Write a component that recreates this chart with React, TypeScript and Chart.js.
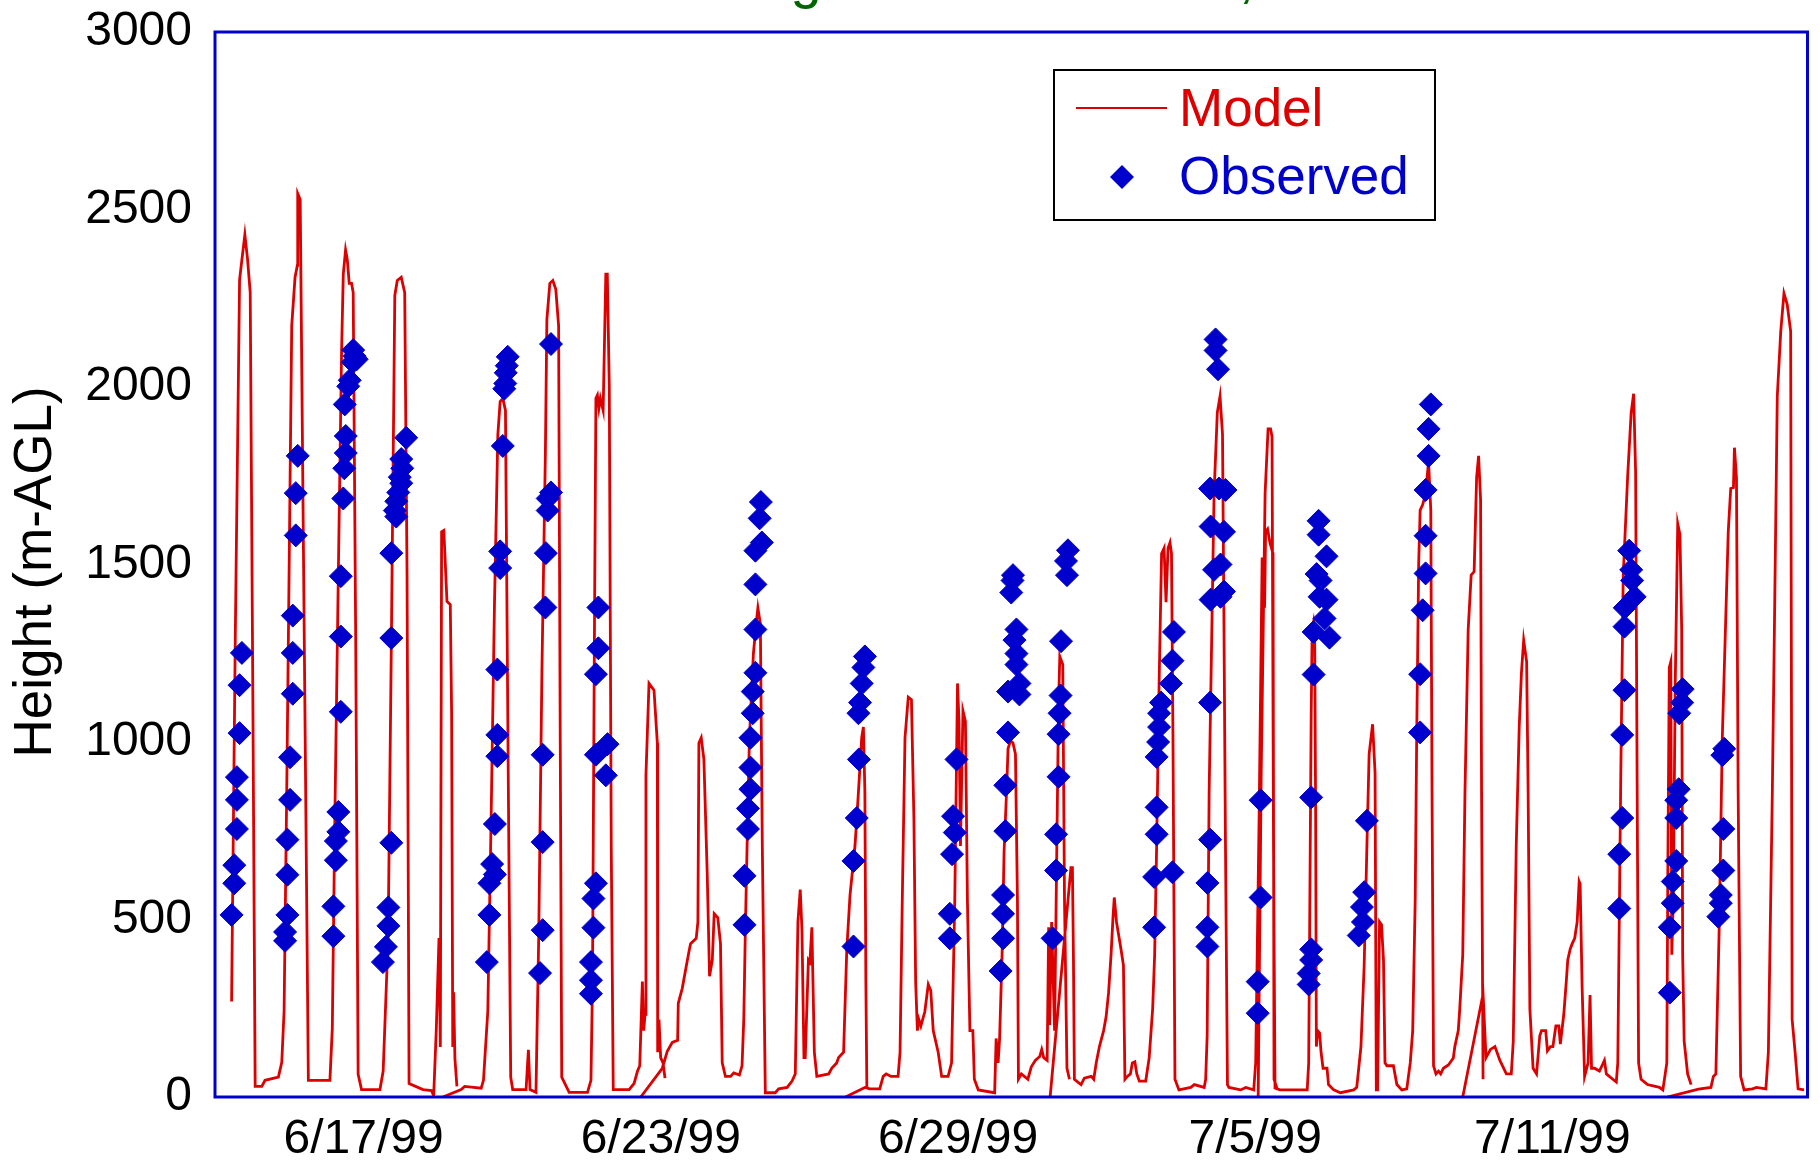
import React, { useEffect, useRef } from "react";
import { Chart, registerables } from "chart.js";

Chart.register(...registerables);

// ---------- data (x = days since 6/14/99 00:00, y = height in m AGL) ----------
const TITLE = "PBL Height at Central Site, 1999";
const Y_TITLE = "Height (m-AGL)";
const SERIES_LABELS = ["Model", "Observed"];

const xTickDays = [3, 9, 15, 21, 27];
const xTickLabels = ["6/17/99", "6/23/99", "6/29/99", "7/5/99", "7/11/99"];
const yTickValues = [0, 500, 1000, 1500, 2000, 2500, 3000];

const modelRun1: [number, number][] = [
  [0.335, 269], [0.41, 1302], [0.496, 2301], [0.53, 2343], [0.603, 2429], [0.657, 2360], [0.711, 2266],
  [0.764, 1131], [0.811, 30], [0.945, 30], [1.01, 47], [1.28, 56], [1.348, 98], [1.395, 243], [1.449, 875],
  [1.502, 1558], [1.549, 2173], [1.616, 2309], [1.663, 2343], [1.67, 2545], [1.72, 2528], [1.885, 47],
  [2.32, 47], [2.368, 192], [2.42, 790], [2.49, 1473], [2.556, 2104], [2.59, 2318], [2.636, 2386],
  [2.67, 2360], [2.71, 2292], [2.757, 2292], [2.79, 2266], [2.84, 1302], [2.89, 64], [2.958, 21],
  [3.33, 21], [3.395, 73], [3.495, 448], [3.562, 1302], [3.63, 2258], [3.68, 2300], [3.76, 2309],
  [3.83, 2266], [3.877, 1473], [3.918, 38], [4.2, 21], [4.37, 18], [4.415, 4], [4.468, 192], [4.522, 448],
  [4.549, 141], [4.575, 1592], [4.62, 1596], [4.683, 1396], [4.75, 1387], [4.777, 1080], [4.8, 141],
  [4.817, 295], [4.844, 107], [4.884, 30],
];

const modelRun2: [number, number][] = [
  [4.6, 0], [4.97, 21], [5.04, 30], [5.374, 25], [5.42, 47], [5.508, 243], [5.575, 790], [5.642, 1387],
  [5.71, 1865], [5.757, 1959], [5.81, 1968], [5.864, 1934], [5.917, 960], [5.97, 56], [6.01, 21], [6.28, 21],
  [6.327, 133], [6.36, 21], [6.48, 13], [6.535, 448], [6.6, 1200], [6.67, 1814], [6.7, 2190], [6.76, 2292],
  [6.82, 2300], [6.88, 2275], [6.937, 2173], [6.97, 1000], [7.0, 56], [7.15, 13], [7.52, 13], [7.59, 47],
  [7.62, 312], [7.66, 1300], [7.69, 1968], [7.72, 1977], [7.75, 1940], [7.78, 1968], [7.836, 1934],
  [7.89, 2318], [7.92, 2318], [7.96, 2002], [8.0, 700], [8.04, 21], [8.09, 21], [8.36, 21], [8.46, 38],
  [8.53, 73], [8.575, 88], [8.628, 325], [8.655, 187], [8.682, 233], [8.7, 905], [8.762, 1165],
  [8.863, 1146], [8.93, 997], [8.937, 126], [8.964, 218], [8.997, 111], [9.045, 96], [9.085, 53],
];

const modelRun3: [number, number][] = [
  [8.595, 0], [9.03, 81], [9.131, 129], [9.232, 154], [9.34, 160], [9.353, 264], [9.433, 306], [9.514, 368],
  [9.568, 409], [9.601, 432], [9.715, 447], [9.749, 493], [9.769, 997], [9.816, 1012], [9.87, 951],
  [9.937, 630], [9.984, 340], [10.04, 386], [10.078, 516], [10.15, 505], [10.205, 432], [10.24, 96],
  [10.305, 58], [10.41, 58], [10.473, 68], [10.587, 62], [10.64, 88], [10.675, 218], [10.708, 478],
  [10.742, 707], [10.789, 1012], [10.87, 1250], [10.93, 1340], [10.96, 1378], [11.01, 1333], [11.05, 700],
  [11.11, 12], [11.31, 12], [11.38, 23], [11.55, 27], [11.65, 45], [11.715, 65], [11.768, 493], [11.815, 584],
  [11.85, 470], [11.89, 111], [11.916, 111], [11.98, 386], [12.01, 380], [12.05, 478], [12.1, 126],
  [12.15, 58], [12.39, 65], [12.45, 81], [12.55, 96], [12.59, 111], [12.69, 126], [12.72, 260],
  [12.755, 416], [12.82, 569], [12.92, 707], [12.99, 859], [13.056, 1012], [13.09, 1042], [13.12, 859],
  [13.14, 325], [13.16, 27],
];

const modelRun4: [number, number][] = [
  [12.73, 0], [13.12, 27], [13.22, 23], [13.42, 23], [13.49, 58], [13.55, 65], [13.65, 58], [13.79, 58],
  [13.83, 126], [13.875, 554], [13.93, 1012], [13.996, 1126], [14.06, 1119], [14.11, 783], [14.145, 325],
  [14.18, 187], [14.21, 218], [14.25, 200], [14.33, 240], [14.4, 317], [14.45, 300], [14.5, 187],
  [14.6, 126], [14.67, 58], [14.8, 58], [14.87, 96], [14.935, 554], [14.99, 1165], [15.02, 1058],
  [15.05, 707], [15.1, 1088], [15.15, 1058], [15.19, 554], [15.24, 187], [15.3, 187], [15.33, 50],
  [15.41, 20], [15.74, 12], [15.77, 165], [15.81, 96], [15.84, 165], [15.89, 401], [15.93, 691],
  [15.98, 859], [16.01, 981], [16.06, 1004], [16.11, 997], [16.16, 966], [16.2, 554], [16.22, 50],
  [16.28, 65], [16.41, 50], [16.48, 85], [16.56, 103], [16.65, 114], [16.69, 134], [16.73, 111], [16.8, 103],
  [16.83, 478], [16.85, 203], [16.89, 493], [16.95, 187], [17.03, 1104], [17.055, 1241], [17.115, 1218],
  [17.15, 554], [17.2, 81], [17.25, 50],
];

const modelRun5: [number, number][] = [
  [16.86, 0], [17.28, 646], [17.31, 646], [17.33, 401], [17.35, 50], [17.42, 42], [17.485, 35], [17.55, 53],
  [17.69, 58], [17.74, 50], [17.79, 96], [17.855, 142], [17.94, 187], [17.99, 226], [18.04, 294], [18.09, 401],
  [18.13, 508], [18.155, 562], [18.2, 493], [18.29, 417], [18.34, 371], [18.37, 50], [18.42, 58], [18.48, 65],
  [18.52, 96], [18.57, 99], [18.61, 65], [18.66, 45], [18.79, 45], [18.86, 111], [18.93, 249], [18.97, 401],
  [19.01, 707], [19.06, 1165], [19.11, 1531], [19.16, 1546], [19.2, 1394], [19.24, 1546], [19.28, 1562],
  [19.31, 1531], [19.34, 1012], [19.38, 50], [19.46, 20], [19.7, 27], [19.77, 35], [19.97, 27], [20.0, 50],
  [20.03, 172], [20.07, 859], [20.17, 1700], [20.235, 1928], [20.29, 1974], [20.34, 1867], [20.37, 1317],
  [20.4, 707], [20.44, 35], [20.47, 27], [20.705, 20], [20.81, 27], [20.97, 20], [21.01, 96], [21.08, 800],
  [21.14, 1516], [21.17, 1516], [21.19, 1378], [21.21, 1592], [21.25, 1600], [21.3, 1560], [21.36, 1531],
  [21.38, 50], [21.45, 20],
];

const modelRun6: [number, number][] = [
  [21.06, 0], [21.12, 900], [21.2, 1700], [21.26, 1882], [21.31, 1882], [21.34, 1860], [21.37, 700],
  [21.4, 25], [21.5, 20], [21.645, 20], [22.05, 20], [22.08, 96], [22.13, 1073], [22.15, 1317], [22.18, 1340],
  [22.2, 1320], [22.22, 800], [22.235, 142], [22.26, 187], [22.3, 180], [22.33, 126], [22.37, 81],
  [22.45, 81], [22.48, 35], [22.585, 20], [22.72, 12], [22.99, 20], [23.05, 27], [23.135, 142], [23.2, 371],
  [23.255, 707], [23.3, 966], [23.37, 1050], [23.42, 913], [23.445, 20], [23.47, 20], [23.51, 493],
  [23.55, 485], [23.59, 386], [23.62, 96], [23.66, 88], [23.79, 88], [23.86, 35], [23.96, 20], [24.06, 23],
  [24.13, 96], [24.18, 187], [24.23, 554], [24.26, 1012], [24.3, 1500], [24.33, 1653], [24.38, 1668],
  [24.44, 1700], [24.5, 1790], [24.545, 1653], [24.57, 859], [24.6, 88], [24.65, 65], [24.7, 73],
  [24.745, 65], [24.8, 81], [24.9, 90], [25.0, 110], [25.03, 142], [25.1, 187], [25.13, 249], [25.19, 401],
  [25.235, 859], [25.3, 1317], [25.36, 1470], [25.42, 1480], [25.47, 1745], [25.51, 1806], [25.55, 1684],
  [25.57, 859], [25.6, 50],
];

const modelRun7: [number, number][] = [
  [25.19, 0], [25.6, 290], [25.66, 111], [25.75, 134], [25.84, 142], [25.94, 103], [26.07, 65], [26.17, 65],
  [26.21, 157], [26.27, 707], [26.33, 1042], [26.375, 1195], [26.42, 1287], [26.48, 1226], [26.51, 859],
  [26.545, 249], [26.61, 81], [26.68, 65], [26.745, 172], [26.78, 187], [26.865, 187], [26.9, 130],
  [26.96, 142], [27.01, 142], [27.07, 200], [27.13, 200], [27.16, 149], [27.23, 233], [27.28, 325],
  [27.31, 386], [27.36, 417], [27.4, 432], [27.45, 447], [27.5, 493], [27.54, 607], [27.56, 600], [27.6, 310],
  [27.65, 58], [27.72, 96], [27.76, 287], [27.79, 81], [27.85, 81], [27.95, 73], [28.0, 88], [28.05, 103],
  [28.09, 65], [28.15, 58], [28.22, 50], [28.29, 42], [28.32, 96], [28.38, 900], [28.43, 1470], [28.52, 1750],
  [28.59, 1928], [28.64, 1981], [28.68, 1760], [28.71, 900], [28.74, 96], [28.79, 50], [28.86, 42],
  [28.92, 35], [29.16, 27], [29.23, 20], [29.31, 96], [29.33, 630], [29.36, 1210], [29.39, 1226],
  [29.41, 401], [29.44, 554], [29.48, 1165], [29.53, 1615], [29.575, 1584], [29.61, 1317], [29.63, 401],
  [29.66, 157], [29.73, 65], [29.8, 35],
];

const modelRun8: [number, number][] = [
  [29.32, 0], [29.95, 22], [30.2, 27], [30.25, 58], [30.3, 65], [30.37, 493], [30.43, 1012], [30.55, 1592],
  [30.6, 1714], [30.655, 1717], [30.675, 1829], [30.716, 1745], [30.75, 859], [30.8, 58], [30.87, 20],
  [31.04, 23], [31.12, 27], [31.31, 23], [31.36, 126], [31.44, 859], [31.49, 1409], [31.54, 1974],
  [31.61, 2157], [31.675, 2264], [31.74, 2233], [31.81, 2157], [31.84, 218], [31.9, 126], [31.96, 23],
  [32.08, 20],
];

const observed: [number, number][] = [
  // 6/14
  [0.543, 1251], [0.496, 1160], [0.496, 1025], [0.442, 901], [0.442, 837], [0.442, 755], [0.389, 653],
  [0.389, 602], [0.335, 513],
  // 6/15
  [1.67, 1806], [1.63, 1701], [1.63, 1582], [1.57, 1356], [1.57, 1251], [1.57, 1136], [1.516, 957],
  [1.516, 837], [1.462, 725], [1.462, 626], [1.462, 513], [1.415, 465], [1.415, 440],
  // 6/16
  [2.79, 2104], [2.82, 2087], [2.86, 2078], [2.78, 2070], [2.72, 2019], [2.69, 2002], [2.62, 1951],
  [2.64, 1862], [2.64, 1814], [2.61, 1771], [2.59, 1686], [2.54, 1467], [2.54, 1297], [2.54, 1085],
  [2.49, 803], [2.49, 747], [2.44, 721], [2.44, 667], [2.39, 537], [2.39, 453],
  // 6/17
  [3.86, 1857], [3.76, 1797], [3.78, 1771], [3.73, 1746], [3.76, 1729], [3.7, 1703], [3.66, 1678],
  [3.63, 1652], [3.66, 1635], [3.56, 1532], [3.56, 1293], [3.56, 716], [3.5, 534], [3.5, 482], [3.45, 423],
  [3.39, 380],
  // 6/19
  [5.91, 2085], [5.89, 2060], [5.87, 2040], [5.86, 2010], [5.84, 1995], [5.81, 1834], [5.757, 1537],
  [5.757, 1490], [5.7, 1204], [5.7, 1020], [5.7, 960], [5.65, 769], [5.595, 656], [5.65, 627], [5.54, 602],
  [5.54, 513], [5.488, 380],
  // 6/20
  [6.783, 2121], [6.783, 1703], [6.716, 1686], [6.716, 1652], [6.68, 1532], [6.67, 1379], [6.615, 964],
  [6.615, 718], [6.615, 470], [6.562, 349],
  // 6/21
  [7.74, 1379], [7.74, 1264], [7.69, 1191], [7.924, 994], [7.69, 964], [7.89, 906], [7.69, 602],
  [7.64, 559], [7.64, 477], [7.59, 380], [7.59, 329], [7.59, 291],
  // 6/24
  [11.02, 1676], [10.996, 1630], [11.04, 1562], [10.91, 1539], [10.91, 1444], [10.91, 1317], [10.91, 1195],
  [10.856, 1142], [10.856, 1081], [10.81, 1012], [10.81, 928], [10.81, 867], [10.76, 813], [10.76, 755],
  [10.69, 623], [10.69, 485],
  // 6/26
  [13.12, 1241], [13.09, 1210], [13.056, 1165], [13.023, 1111], [12.99, 1081], [13.0, 951], [12.956, 786],
  [12.89, 665], [12.89, 424],
  // 6/28
  [14.97, 951], [14.9, 791], [14.935, 745], [14.88, 684], [14.835, 516], [14.835, 447],
  // 6/29
  [16.11, 1470], [16.1, 1455], [16.075, 1421], [16.18, 1317], [16.14, 1287], [16.18, 1249], [16.18, 1218],
  [16.01, 1142], [16.24, 1165], [16.24, 1134], [16.01, 1027], [15.955, 878], [15.955, 749], [15.91, 569],
  [15.91, 516], [15.91, 447], [15.86, 355],
  // 6/30
  [17.22, 1540], [17.18, 1510], [17.2, 1470], [17.08, 1284], [17.07, 1131], [17.05, 1081], [17.03, 1022],
  [17.03, 902], [16.98, 740], [16.98, 638], [16.91, 447],
  // 7/2
  [19.36, 1310], [19.33, 1229], [19.3, 1165], [19.1, 1111], [19.06, 1081], [19.06, 1042], [19.04, 1000],
  [19.01, 958], [19.01, 816], [19.01, 740], [18.96, 620], [19.33, 633], [18.96, 478],
  // 7/3
  [20.2, 2134], [20.2, 2103], [20.25, 2050], [20.09, 1714], [20.27, 1714], [20.4, 1710], [20.1, 1607],
  [20.37, 1592], [20.3, 1500], [20.17, 1485], [20.37, 1424], [20.1, 1401], [20.3, 1409], [20.09, 1111],
  [20.09, 725], [20.035, 603], [20.035, 478], [20.035, 424],
  // 7/4
  [21.11, 836], [21.11, 562], [21.05, 325], [21.05, 236],
  // 7/5
  [22.28, 1623], [22.28, 1584], [22.44, 1523], [22.24, 1473], [22.32, 1455], [22.3, 1409], [22.44, 1401],
  [22.4, 1348], [22.18, 1310], [22.5, 1294], [22.18, 1190], [22.13, 844], [22.13, 416], [22.13, 386],
  [22.08, 348], [22.08, 317],
  // 7/6
  [23.255, 778], [23.2, 577], [23.155, 535], [23.175, 493], [23.09, 455],
  // 7/7
  [24.545, 1951], [24.5, 1882], [24.5, 1806], [24.44, 1710], [24.44, 1581], [24.44, 1475], [24.38, 1371],
  [24.33, 1191], [24.33, 1027],
  // 7/12
  [28.55, 1539], [28.59, 1485], [28.61, 1455], [28.66, 1409], [28.46, 1378], [28.455, 1325], [28.455, 1146],
  [28.41, 1020], [28.41, 786], [28.35, 684], [28.35, 531],
  // 7/13
  [29.63, 1149], [29.62, 1111], [29.56, 1081], [29.55, 867], [29.5, 836], [29.5, 786], [29.5, 665],
  [29.43, 607], [29.43, 546], [29.37, 478], [29.37, 294],
  // 7/14
  [30.47, 981], [30.43, 963], [30.45, 755], [30.45, 638], [30.4, 569], [30.4, 546], [30.35, 508],
];

const modelRuns = [modelRun1, modelRun2, modelRun3, modelRun4, modelRun5, modelRun6, modelRun7, modelRun8];

// ---------- styling ----------
const FONT = '"Liberation Sans", Arial, Helvetica, sans-serif';
const RED = "#DD0000";
const BLUE = "#0000CC";
const GREEN = "#006600";

function buildModelPoints() {
  const pts: { x: number; y: number | null }[] = [];
  modelRuns.forEach((run, i) => {
    if (i > 0) pts.push({ x: run[0][0], y: null });
    run.forEach(([d, v]) => pts.push({ x: d, y: v }));
  });
  return pts;
}

const decorPlugin = {
  id: "decor",
  afterDatasetsDraw(chart: any) {
    const { ctx, chartArea: a } = chart;
    ctx.save();
    // plot frame
    ctx.strokeStyle = BLUE;
    ctx.lineWidth = 3;
    ctx.strokeRect(a.left, a.top, a.right - a.left, a.bottom - a.top);

    // legend box
    const bx = 1054, by = 70, bw = 381, bh = 150;
    ctx.fillStyle = "#ffffff";
    ctx.fillRect(bx, by, bw, bh);
    ctx.strokeStyle = "#000000";
    ctx.lineWidth = 2;
    ctx.strokeRect(bx, by, bw, bh);

    ctx.font = `53px ${FONT}`;
    ctx.textAlign = "left";
    ctx.textBaseline = "middle";
    // Model entry
    ctx.strokeStyle = RED;
    ctx.lineWidth = 2;
    ctx.beginPath();
    ctx.moveTo(1076, 108);
    ctx.lineTo(1167, 108);
    ctx.stroke();
    ctx.fillStyle = RED;
    ctx.fillText(SERIES_LABELS[0], 1179, 111);
    // Observed entry
    ctx.fillStyle = BLUE;
    ctx.beginPath();
    ctx.moveTo(1110, 177);
    ctx.lineTo(1122, 165);
    ctx.lineTo(1134, 177);
    ctx.lineTo(1122, 189);
    ctx.closePath();
    ctx.fill();
    ctx.fillText(SERIES_LABELS[1], 1179, 179);
    ctx.restore();
  },
  afterDraw(chart: any) {
    const { ctx } = chart;
    ctx.save();
    // clipped title at the very top
    ctx.font = `56px ${FONT}`;
    ctx.fillStyle = GREEN;
    ctx.textAlign = "left";
    ctx.textBaseline = "alphabetic";
    ctx.fillText(TITLE, 585, -3);
    // y-axis title
    ctx.font = `53px ${FONT}`;
    ctx.fillStyle = "#000";
    ctx.textAlign = "center";
    ctx.textBaseline = "middle";
    ctx.translate(36, 572);
    ctx.rotate(-Math.PI / 2);
    ctx.fillText(Y_TITLE, 0, 0);
    ctx.restore();
  },
};

export default function App() {
  const canvasRef = useRef<HTMLCanvasElement | null>(null);

  useEffect(() => {
    const canvas = canvasRef.current;
    if (!canvas) return;
    const chart = new Chart(canvas, {
      type: "scatter",
      data: {
        datasets: [
          {
            type: "scatter",
            label: SERIES_LABELS[1],
            data: observed.map(([d, v]) => ({ x: d, y: v })),
            pointStyle: "rectRot",
            pointRadius: 11.5,
            pointHoverRadius: 11.5,
            backgroundColor: BLUE,
            borderColor: BLUE,
            borderWidth: 1,
            showLine: false,
          } as any,
          {
            type: "line",
            label: SERIES_LABELS[0],
            data: buildModelPoints(),
            borderColor: RED,
            borderWidth: 2.8,
            pointRadius: 0,
            pointHoverRadius: 0,
            tension: 0,
            spanGaps: false,
            fill: false,
          } as any,
        ],
      },
      options: {
        responsive: false,
        maintainAspectRatio: false,
        animation: false,
        devicePixelRatio: 1,
        events: [],
        layout: { padding: { top: 32, right: 9, bottom: 0, left: 0 } },
        plugins: {
          legend: { display: false },
          tooltip: { enabled: false },
          title: { display: false },
        },
        scales: {
          x: {
            type: "linear",
            min: 0,
            max: 32.15,
            afterBuildTicks: (s: any) => {
              s.ticks = xTickDays.map((v) => ({ value: v }));
            },
            afterFit: (s: any) => {
              s.height = 67;
              s.paddingLeft = 0;
              s.paddingRight = 0;
            },
            ticks: {
              autoSkip: false,
              maxRotation: 0,
              padding: 14,
              color: "#000",
              font: { family: FONT, size: 48 },
              callback: (v: any) => {
                const i = xTickDays.indexOf(Number(v));
                return i >= 0 ? xTickLabels[i] : "";
              },
            },
            grid: { display: false, drawTicks: false },
            border: { display: false },
          },
          y: {
            type: "linear",
            min: 0,
            max: 3000,
            afterBuildTicks: (s: any) => {
              s.ticks = yTickValues.map((v) => ({ value: v }));
            },
            afterFit: (s: any) => {
              s.width = 215;
              s.paddingTop = 0;
              s.paddingBottom = 0;
            },
            ticks: {
              padding: 23,
              color: "#000",
              font: { family: FONT, size: 48 },
              callback: (v: any) => String(v),
            },
            grid: { display: false, drawTicks: false },
            border: { display: false },
          },
        },
      } as any,
      plugins: [decorPlugin],
    });
    return () => chart.destroy();
  }, []);

  return (
    <div style={{ position: "absolute", left: 0, top: 0, width: 1820, height: 1164, background: "#fff" }}>
      <canvas ref={canvasRef} width={1820} height={1164} style={{ display: "block", width: 1820, height: 1164 }} />
    </div>
  );
}
